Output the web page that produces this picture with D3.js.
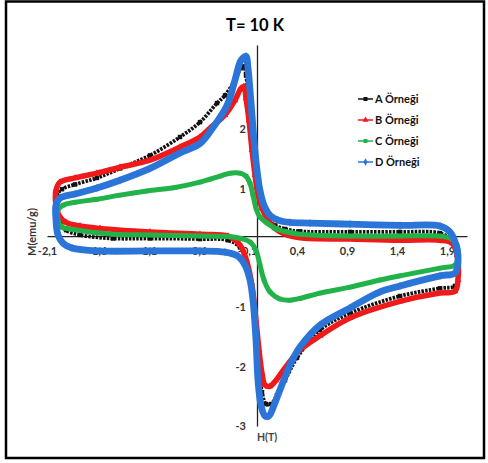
<!DOCTYPE html>
<html>
<head>
<meta charset="utf-8">
<script src="https://cdn.jsdelivr.net/npm/d3@7"></script>
<style>
body { margin: 0; background: #fff; }
text { font-family: Lato, "Open Sans", sans-serif; }
</style>
</head>
<body>
<svg width="488" height="463"></svg>
<script>
const xTicks = [-2.1, -1.6, -1.1, -0.6, -0.1, 0.4, 0.9, 1.4, 1.9];
const yTicks = [-3, -2, -1, 1, 2];
const seriesNames = ["A Örneği", "B Örneği", "C Örneği", "D Örneği"];

// [H (T), M (emu/g)], one closed loop per sample
const sampleA = [
    [2.00, -0.04], [1.95, 0.13], [1.83, 0.25], [1.43, 0.27], [0.93, 0.27], [0.43, 0.28],
    [0.28, 0.32], [0.18, 0.38], [0.11, 0.50], [0.05, 0.72], [0.01, 1.06], [-0.02, 1.48],
    [-0.05, 1.98], [-0.08, 2.49], [-0.11, 2.91], [-0.13, 3.06], [-0.16, 3.03], [-0.22, 2.83],
    [-0.32, 2.57], [-0.40, 2.44], [-0.57, 2.12], [-0.77, 1.87], [-1.07, 1.56], [-1.37, 1.34],
    [-1.60, 1.18], [-1.82, 1.07], [-1.95, 0.99], [-2.00, 0.89], [-2.00, 0.64], [-1.97, 0.43],
    [-1.91, 0.30], [-1.77, 0.22], [-1.44, 0.16], [-1.07, 0.16], [-0.57, 0.15], [-0.29, 0.13],
    [-0.17, 0.01], [-0.10, -0.24], [-0.05, -0.63], [-0.02, -1.22], [0.01, -1.89], [0.05, -2.43],
    [0.09, -2.63], [0.14, -2.63], [0.20, -2.48], [0.28, -2.23], [0.40, -1.85], [0.63, -1.38],
    [0.93, -1.10], [1.43, -0.81], [1.83, -0.68], [1.98, -0.64], [2.01, -0.46]
];
const sampleB = [
    [2.00, -0.12], [1.95, 0.08], [1.83, 0.13], [1.43, 0.13], [0.93, 0.15], [0.43, 0.17],
    [0.28, 0.23], [0.18, 0.33], [0.11, 0.47], [0.05, 0.67], [0.01, 0.89], [-0.02, 1.23],
    [-0.05, 1.65], [-0.08, 2.15], [-0.11, 2.52], [-0.13, 2.72], [-0.16, 2.69], [-0.22, 2.49],
    [-0.32, 2.24], [-0.47, 2.02], [-0.57, 1.87], [-0.77, 1.70], [-1.07, 1.48], [-1.37, 1.36],
    [-1.60, 1.26], [-1.82, 1.18], [-1.97, 1.11], [-2.01, 0.97], [-2.01, 0.72], [-1.98, 0.55],
    [-1.91, 0.43], [-1.77, 0.37], [-1.57, 0.33], [-1.07, 0.27], [-0.57, 0.23], [-0.29, 0.20],
    [-0.17, 0.05], [-0.10, -0.24], [-0.05, -0.63], [-0.01, -1.22], [0.02, -1.72], [0.05, -2.11],
    [0.08, -2.31], [0.13, -2.33], [0.19, -2.23], [0.28, -2.02], [0.43, -1.72], [0.63, -1.48],
    [0.93, -1.18], [1.43, -0.90], [1.83, -0.76], [1.98, -0.73], [2.01, -0.54]
];
const sampleC = [
    [2.00, 0.05], [1.95, 0.15], [1.83, 0.20], [1.43, 0.20], [0.93, 0.20], [0.43, 0.23],
    [0.28, 0.28], [0.18, 0.33], [0.10, 0.42], [0.03, 0.52], [-0.01, 0.67], [-0.04, 0.89],
    [-0.07, 1.09], [-0.11, 1.21], [-0.17, 1.26], [-0.27, 1.26], [-0.37, 1.21], [-0.57, 1.11],
    [-0.82, 1.02], [-1.10, 0.96], [-1.37, 0.89], [-1.60, 0.82], [-1.82, 0.77], [-1.94, 0.72],
    [-1.99, 0.64], [-1.99, 0.47], [-1.95, 0.35], [-1.87, 0.32], [-1.44, 0.23], [-1.07, 0.22],
    [-0.57, 0.20], [-0.22, 0.18], [-0.07, 0.10], [-0.01, -0.04], [0.03, -0.29], [0.07, -0.54],
    [0.13, -0.74], [0.23, -0.86], [0.33, -0.88], [0.43, -0.85], [0.63, -0.76], [0.93, -0.66],
    [1.23, -0.54], [1.43, -0.47], [1.83, -0.34], [1.98, -0.29], [2.01, -0.15]
];
const sampleD = [
    [1.99, 0.05], [1.93, 0.27], [1.83, 0.37], [1.43, 0.38], [0.93, 0.40], [0.53, 0.42],
    [0.33, 0.43], [0.21, 0.47], [0.13, 0.55], [0.07, 0.72], [0.03, 0.97], [0.00, 1.31],
    [-0.03, 1.81], [-0.05, 2.24], [-0.07, 2.66], [-0.09, 3.03], [-0.11, 3.23], [-0.14, 3.20],
    [-0.17, 3.13], [-0.22, 2.83], [-0.30, 2.40], [-0.44, 2.03], [-0.57, 1.76], [-0.77, 1.60],
    [-1.07, 1.34], [-1.37, 1.14], [-1.60, 1.01], [-1.82, 0.91], [-1.97, 0.84], [-2.01, 0.72],
    [-2.01, 0.47], [-1.99, 0.22], [-1.94, 0.08], [-1.85, 0.00], [-1.57, -0.05], [-1.07, -0.05],
    [-0.57, -0.05], [-0.32, -0.07], [-0.19, -0.14], [-0.12, -0.29], [-0.07, -0.54], [-0.04, -0.88],
    [-0.01, -1.55], [0.01, -2.23], [0.04, -2.65], [0.08, -2.83], [0.12, -2.83], [0.17, -2.65],
    [0.23, -2.39], [0.33, -1.97], [0.43, -1.67], [0.63, -1.30], [0.93, -1.01], [1.23, -0.74],
    [1.43, -0.64], [1.83, -0.47], [1.98, -0.42], [2.01, -0.24]
];

const xAxisAt = 0.2; // horizontal axis crosses the vertical axis here

const series = [
    {name: seriesNames[0], values: sampleA, color: "#111111", width: 3.8, dash: "2.5 1.2", symbol: d3.symbolSquare},
    {name: seriesNames[1], values: sampleB, color: "#f01a1a", width: 5.5, dash: null, symbol: d3.symbolTriangle},
    {name: seriesNames[2], values: sampleC, color: "#22b24a", width: 5, dash: null, symbol: d3.symbolSquare},
    {name: seriesNames[3], values: sampleD, color: "#2b74d8", width: 6.8, dash: null, symbol: d3.symbolDiamond},
];

const svg = d3.select("svg");

const x = d3.scaleLinear().domain([-2.1, 2.1]).range([47, 467]);
const y = d3.scaleLinear().domain([-3, 3.42]).range([426, 45]);

// outer frame
svg.append("rect")
    .attr("x", 6).attr("y", 1.5)
    .attr("width", 478).attr("height", 456.5)
    .attr("fill", "none")
    .attr("stroke", "#000")
    .attr("stroke-width", 2.5);

svg.append("text")
    .attr("x", 255).attr("y", 31)
    .attr("text-anchor", "middle")
    .style("font-size", "16.5px")
    .style("font-weight", "bold")
    .text("T= 10 K");

const fmt = d => d3.format(".1f")(d).replace(".", ",").replace("−", "-");

const xAxis = svg.append("g")
    .attr("transform", `translate(0,${y(xAxisAt)})`)
    .call(d3.axisBottom(x).tickValues(xTicks).tickFormat(fmt).tickSize(0).tickPadding(11));

const yAxis = svg.append("g")
    .attr("transform", `translate(${x(0)},0)`)
    .call(d3.axisLeft(y).tickValues(yTicks).tickFormat(d3.format("d")).tickSize(0).tickPadding(11));

[xAxis, yAxis].forEach(g => {
    g.select(".domain").attr("stroke", "#222").attr("stroke-width", 1.3);
    g.selectAll("text")
        .attr("fill", "#333")
        .style("font-size", "11px")
        .style("font-weight", "bold")
        .style("font-family", "Lato, 'Open Sans', sans-serif");
});
yAxis.selectAll("text").text(d => String(d).replace("−", "-"));

svg.append("text")
    .attr("transform", `translate(36,232) rotate(-90)`)
    .attr("text-anchor", "middle")
    .attr("fill", "#333")
    .style("font-size", "11px")
    .style("font-weight", "bold")
    .text("M(emu/g)");

svg.append("text")
    .attr("x", 267).attr("y", 441)
    .attr("text-anchor", "middle")
    .attr("fill", "#444")
    .style("font-size", "10.5px")
    .style("font-weight", "bold")
    .text("H(T)");

const line = d3.line()
    .x(d => x(d[0]))
    .y(d => y(d[1]))
    .curve(d3.curveCatmullRomClosed.alpha(0.5));

series.forEach(s => {
    const g = svg.append("g");
    g.append("path")
        .attr("d", line(s.values))
        .attr("fill", "none")
        .attr("stroke", s.color)
        .attr("stroke-width", s.width)
        .attr("stroke-dasharray", s.dash)
        .attr("stroke-linejoin", "round");
    g.selectAll("path.m")
        .data(s.values)
        .enter().append("path")
        .attr("class", "m")
        .attr("transform", d => `translate(${x(d[0])},${y(d[1])})`)
        .attr("d", d3.symbol().type(s.symbol).size(20))
        .attr("fill", s.color);
});

// legend
const legend = svg.append("g").attr("transform", "translate(358,99)");
series.forEach((s, i) => {
    const row = legend.append("g").attr("transform", `translate(0,${i * 21})`);
    row.append("line")
        .attr("x1", 0).attr("x2", 15)
        .attr("stroke", s.color)
        .attr("stroke-width", 1.5);
    row.append("path")
        .attr("transform", "translate(7.5,0)")
        .attr("d", d3.symbol().type(s.symbol).size(16))
        .attr("fill", s.color);
    row.append("text")
        .attr("x", 17).attr("y", 4)
        .attr("fill", "#111")
        .style("font-size", "11px")
        .style("font-weight", "bold")
        .text(s.name);
});
</script>
</body>
</html>
